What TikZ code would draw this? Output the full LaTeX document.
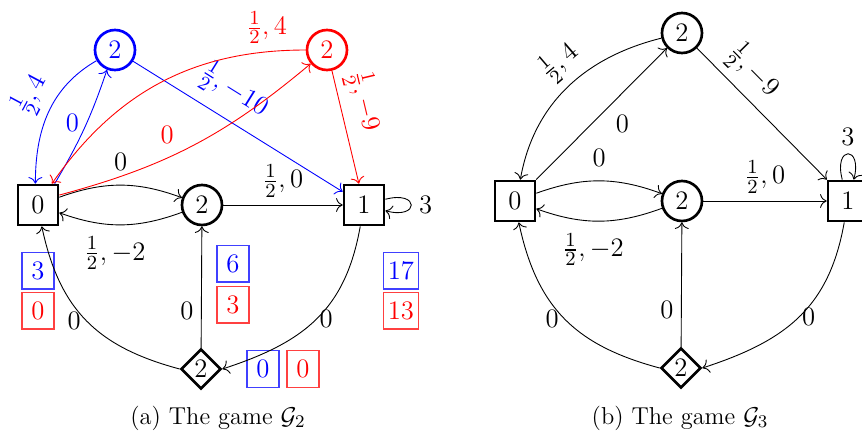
\documentclass[tikz,border=0pt]{standalone}
\usepackage{amsmath,amssymb}
\usetikzlibrary{shapes.geometric,arrows.meta}

\tikzset{
  vert/.style={draw,line width=1.2pt,font=\fontsize{13}{15}\selectfont,inner sep=0pt},
  maxv/.style={vert,rectangle,minimum size=18pt},
  avgv/.style={vert,circle,minimum size=18pt},
  minv/.style={vert,diamond,minimum width=18pt,minimum height=18pt},
  valbox/.style={draw,line width=0.5pt,font=\fontsize{13}{15}\selectfont,minimum width=14.4pt,minimum height=16.6pt,inner sep=2pt},
  bluebox/.style={valbox,draw=blue!75,text=blue},
  redbox/.style={valbox,draw=red!75,text=red},
  lab/.style={font=\fontsize{13}{15}\selectfont},
}

\begin{document}
\begin{tikzpicture}[x=0.45pt,y=0.45pt,>={Computer Modern Rightarrow[scale=1.2]},->,line width=0.4pt]
  \useasboundingbox (0,0) rectangle (862,436);
  % (a) the game G2
  \node[maxv] (a0) at (38,231) {$0$};
  \node[avgv] (am) at (202,231) {$2$};
  \node[maxv] (a1) at (364,231) {$1$};
  \node[avgv,blue] (ab) at (115,386) {$2$};
  \node[avgv,red] (ar) at (327,386) {$2$};
  \node[minv] (ad) at (201,67) {$2$};
  % values
  \node[bluebox] (va0) at (38,165.5) {$3$};
  \node[redbox] (wa0) at (38,125.5) {$0$};
  \node[bluebox] (vam) at (233,172.5) {$6$};
  \node[redbox] (wam) at (233,131.5) {$3$};
  \node[bluebox] (va1) at (401,165.5) {$17$};
  \node[redbox] (wa1) at (401,125.5) {$13$};
  \node[bluebox] (vad) at (263,67) {$0$};
  \node[redbox] (wad) at (303,67) {$0$};
  % black edges
  \draw (a0.20) to[bend left=20] node[lab,above=3pt] {$0$} (am.160);
  \draw (am.200) to[bend left=20] node[lab,below=2pt,pos=0.55] {$\frac{1}{2},-2$} (a0.-20);
  \draw (am) -- node[lab,above] {$\frac{1}{2},0$} (a1);
  \draw (a1) to[loop right] node[lab,right] {$3$} ();
  \draw (a1.-100) to[out=-100,in=18,looseness=1.1] node[lab,pos=0.5,right=-2pt] {$0$} (ad.east);
  \draw (ad.west) to[out=165,in=-78,looseness=1.1] node[lab,pos=0.5,left=-1pt] {$0$} (a0.-80);
  \draw (ad) -- node[lab,left,pos=0.3] {$0$} (am);
  % blue edges
  \draw[blue] (a0.52) to[bend right=6] node[lab,left,pos=0.55] {$0$} (ab.-112);
  \draw[blue] (ab.210) to[out=210,in=90] node[lab,above,sloped,pos=0.45] {$\frac{1}{2},4$} (a0.97);
  \draw[blue] (ab) -- node[lab,above=2pt,sloped,pos=0.41] {$\frac{1}{2},-10$} (a1);
  % red edges
  \draw[red] (a0.25) to[out=15,in=220] node[lab,above left,pos=0.45] {$0$} (ar.220);
  \draw[red] (ar.west) to[out=180,in=55] node[lab,above,pos=0.12] {$\frac{1}{2},4$} (a0.57);
  \draw[red] (ar) -- node[lab,above,sloped,pos=0.32] {$\frac{1}{2},-9$} (a1);
  \node[font=\fontsize{11}{13}\selectfont] (capa) at (218,18) {(a) The game $\mathcal{G}_2$};
  % (b) the game G3
  \node[maxv] (b0) at (515,235) {$0$};
  \node[avgv] (bm) at (682,235) {$2$};
  \node[maxv] (b1) at (848,235) {$1$};
  \node[avgv] (bt) at (682,403) {$2$};
  \node[minv] (bd) at (681,68) {$2$};
  \draw (b0.20) to[bend left=20] node[lab,above=3pt] {$0$} (bm.160);
  \draw (bm.200) to[bend left=20] node[lab,below=2pt,pos=0.55] {$\frac{1}{2},-2$} (b0.-20);
  \draw (bm) -- node[lab,above] {$\frac{1}{2},0$} (b1);
  \draw (b1) to[loop above] node[lab,above] {$3$} ();
  \draw (b1.-100) to[out=-100,in=18,looseness=1.1] node[lab,pos=0.5,right=-2pt] {$0$} (bd.east);
  \draw (bd.west) to[out=165,in=-78,looseness=1.1] node[lab,pos=0.5,left=-1pt] {$0$} (b0.-80);
  \draw (bd) -- node[lab,left,pos=0.3] {$0$} (bm);
  \draw (b0) -- node[lab,below right,pos=0.55] {$0$} (bt);
  \draw (bt.194) to[out=194,in=80] node[lab,above,sloped,pos=0.45] {$\frac{1}{2},4$} (b0.76);
  \draw (bt) -- node[lab,above,sloped,pos=0.3] {$\frac{1}{2},-9$} (b1);
  \node[font=\fontsize{11}{13}\selectfont] (capb) at (680,18) {(b) The game $\mathcal{G}_3$};
\end{tikzpicture}
\end{document}
